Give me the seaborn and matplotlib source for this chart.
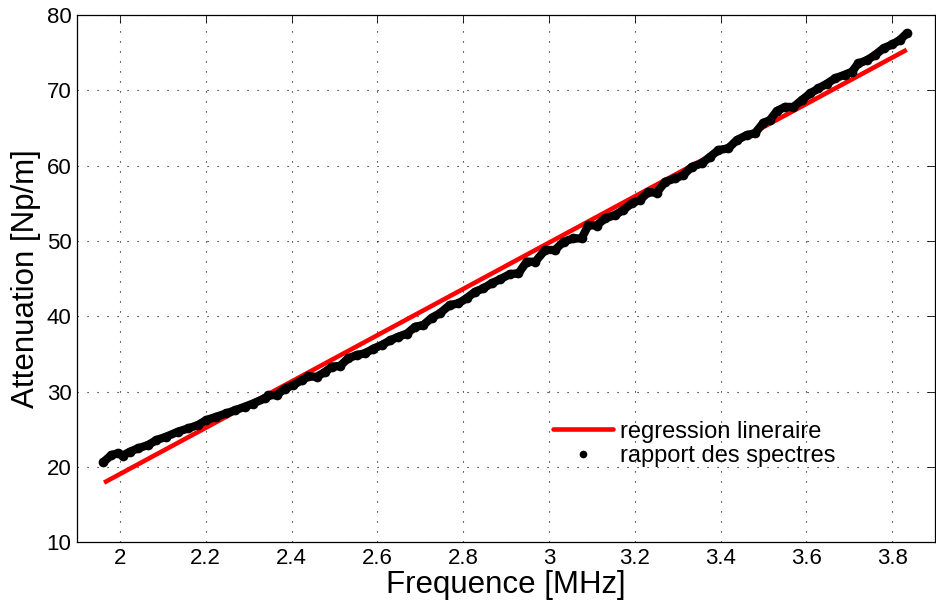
import matplotlib
matplotlib.use("Agg")
import matplotlib.pyplot as plt
from matplotlib.lines import Line2D
import seaborn as sns
import pandas as pd

freq_mhz = [1.961, 1.980, 1.996, 2.007, 2.023, 2.042, 2.066, 2.085, 2.108, 2.135,
            2.159, 2.182, 2.201, 2.225, 2.248, 2.268, 2.291, 2.310, 2.338, 2.346,
            2.365, 2.385, 2.404, 2.424, 2.439, 2.459, 2.478, 2.494, 2.513, 2.532,
            2.552, 2.571, 2.591, 2.610, 2.630, 2.649, 2.669, 2.688, 2.707, 2.727,
            2.746, 2.769, 2.789, 2.808, 2.828, 2.847, 2.867, 2.886, 2.909, 2.929,
            2.948, 2.968, 2.991, 3.014, 3.034, 3.057, 3.076, 3.092, 3.111, 3.131,
            3.154, 3.173, 3.193, 3.212, 3.232, 3.251, 3.271, 3.294, 3.313, 3.333,
            3.356, 3.376, 3.395, 3.418, 3.438, 3.461, 3.480, 3.500, 3.515, 3.531,
            3.550, 3.570, 3.589, 3.609, 3.628, 3.648, 3.667, 3.690, 3.706, 3.721,
            3.741, 3.760, 3.780, 3.800, 3.818, 3.834]
atten = [20.6, 21.56, 21.8, 21.5, 22.0, 22.45, 22.9, 23.55, 24.0, 24.66,
         25.1, 25.55, 26.2, 26.65, 27.1, 27.5, 27.98, 28.4, 29.1, 29.5,
         29.53, 30.4, 30.86, 31.5, 32.0, 31.96, 32.6, 33.3, 33.4, 34.4,
         34.85, 35.07, 35.7, 36.17, 36.8, 37.27, 37.7, 38.6, 38.83, 39.8,
         40.4, 41.5, 41.7, 42.4, 43.25, 43.7, 44.4, 44.9, 45.6, 45.7,
         47.24, 47.24, 48.8, 48.8, 49.9, 50.34, 50.34, 52.1, 52.05, 53.0,
         53.44, 54.1, 55.0, 55.43, 56.5, 56.4, 57.86, 58.3, 58.75, 59.85,
         60.3, 61.2, 62.07, 62.3, 63.4, 64.06, 64.3, 65.7, 66.05, 67.25,
         67.8, 67.8, 68.7, 69.6, 70.26, 70.9, 71.6, 72.1, 72.47, 73.58,
         74.0, 74.7, 75.6, 76.1, 76.7, 77.57]

# linear regression end points
reg_freq = [1.963, 3.834]
reg_atten = [17.9, 75.4]

x_ticks = [2, 2.2, 2.4, 2.6, 2.8, 3, 3.2, 3.4, 3.6, 3.8]
x_tick_labels = ["2", "2.2", "2.4", "2.6", "2.8", "3", "3.2", "3.4", "3.6", "3.8"]
y_ticks = [10, 20, 30, 40, 50, 60, 70, 80]

sns.set_style("white")
plt.rcParams["font.family"] = ["Liberation Sans", "DejaVu Sans"]
plt.rcParams["text.color"] = "black"
plt.rcParams["axes.labelcolor"] = "black"

df = pd.DataFrame({"f": freq_mhz, "a": atten})
reg = pd.DataFrame({"f": reg_freq, "a": reg_atten})

fig = plt.figure(figsize=(9.36, 6.05), dpi=100)
ax = fig.add_axes([0.0823, 0.104, 0.9167, 0.871])

sns.lineplot(data=reg, x="f", y="a", color="#ff0000", linewidth=3.3,
             solid_capstyle="butt", ax=ax, zorder=2)
sns.lineplot(data=df, x="f", y="a", color="black", linewidth=6,
             marker="o", markersize=7, markeredgewidth=0,
             solid_capstyle="round", solid_joinstyle="round", ax=ax, zorder=3)

ax.set_xlim(1.9, 3.9)
ax.set_ylim(10, 80)
ax.set_xticks(x_ticks)
ax.set_xticklabels(x_tick_labels)
ax.set_yticks(y_ticks)
ax.tick_params(direction="in", top=True, right=True, length=6, width=0.6,
               labelsize=16, colors="black", pad=4)
ax.grid(True, linestyle=(0, (1, 8)), color="black", linewidth=0.8)
for s in ax.spines.values():
    s.set_color("black")
    s.set_linewidth(0.9)

ax.set_xlabel("Frequence [MHz]", fontsize=22.5, labelpad=1)
ax.set_ylabel("Attenuation [Np/m]", fontsize=22.5, labelpad=4)

handles = [Line2D([], [], color="#ff0000", linewidth=3.3),
           Line2D([], [], color="black", linestyle="none", marker="o", markersize=4.5)]
ax.legend(handles, ["regression lineraire", "rapport des spectres"],
          loc="upper left", bbox_to_anchor=(0.541, 0.253), frameon=False,
          borderpad=0, fontsize=17, handlelength=2.55, handletextpad=0.3,
          labelspacing=0.1)

fig.savefig("out.png", dpi=100)
